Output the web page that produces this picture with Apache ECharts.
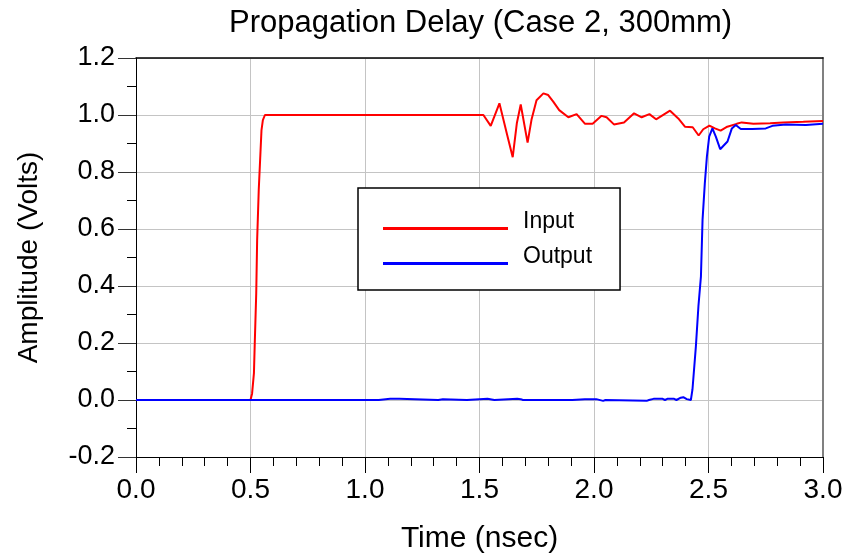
<!DOCTYPE html>
<html>
<head>
<meta charset="utf-8">
<script src="https://cdn.jsdelivr.net/npm/echarts@6/dist/echarts.min.js"></script>
<style>html,body{margin:0;padding:0;background:#fff;}#c{width:850px;height:556px;}</style>
</head>
<body>
<div id="c"></div>
<script>
// ---- data ----
const titleText = 'Propagation Delay (Case 2, 300mm)';
const xName = 'Time (nsec)';
const yName = 'Amplitude (Volts)';
const seriesNames = ['Input', 'Output'];

const inputTime = [0, 0.50, 0.507, 0.515, 0.519, 0.525, 0.529, 0.536, 0.544, 0.548, 0.554, 0.563,
  1.517, 1.549, 1.587, 1.619, 1.645, 1.663, 1.680, 1.710, 1.727, 1.749, 1.779, 1.800, 1.822, 1.848,
  1.888, 1.924, 1.961, 1.994, 2.033, 2.055, 2.087, 2.131, 2.175, 2.208, 2.242, 2.271, 2.332, 2.368,
  2.397, 2.431, 2.457, 2.477, 2.504, 2.528, 2.553, 2.582, 2.623, 2.645, 2.696, 2.769, 2.827, 2.914, 3.0];
const inputAmp = [0, 0, 0.023, 0.094, 0.21, 0.374, 0.561, 0.737, 0.877, 0.947, 0.982, 1.0,
  1.0, 0.962, 1.041, 0.936, 0.852, 0.971, 1.037, 0.903, 0.983, 1.052, 1.076, 1.070, 1.047, 1.017,
  0.992, 1.003, 0.969, 0.969, 0.997, 0.992, 0.967, 0.974, 1.006, 0.992, 1.003, 0.985, 1.015, 0.988,
  0.959, 0.957, 0.928, 0.950, 0.963, 0.953, 0.945, 0.959, 0.969, 0.974, 0.969, 0.971, 0.974, 0.976, 0.979];

const outputTime = [0, 1.06, 1.065, 1.11, 1.115, 1.125, 1.15, 1.155, 1.32, 1.325, 1.34, 1.345,
  1.445, 1.45, 1.535, 1.54, 1.565, 1.57, 1.665, 1.67, 1.68, 1.69, 1.885, 1.89, 1.905, 1.96, 1.965,
  2.01, 2.04, 2.05, 2.23, 2.24, 2.26, 2.30, 2.31, 2.32, 2.35, 2.36, 2.379, 2.39, 2.405, 2.423,
  2.430, 2.445, 2.456, 2.467, 2.474, 2.484, 2.493, 2.503, 2.517, 2.532, 2.551, 2.583, 2.602, 2.619,
  2.641, 2.692, 2.750, 2.779, 2.838, 2.925, 3.0];
const outputAmp = [0, 0, 0.004, 0.004, 0, 0.004, 0.004, 0, 0, 0.003, 0.003, 0,
  0, 0.004, 0.004, 0, 0, 0.004, 0.004, 0, 0.003, 0, 0, 0.004, 0, 0.003, 0,
  0.003, -0.003, 0, -0.003, 0, 0.004, 0.004, 0, 0.004, 0.004, 0, 0.008, 0.010, 0.003, 0,
  0.037, 0.189, 0.329, 0.434, 0.632, 0.761, 0.854, 0.924, 0.953, 0.924, 0.880, 0.907, 0.953, 0.965,
  0.951, 0.951, 0.953, 0.962, 0.967, 0.965, 0.969];

const xMin = 0, xMax = 3.0, xStep = 0.5;
const yMin = -0.2, yMax = 1.2, yStep = 0.2;
const colors = ['#ff0000', '#0000ff'];

// ---- build ----
const pair = (ts, vs) => ts.map((t, i) => [t, vs[i]]);
const FONT = '"Liberation Sans", Arial, sans-serif';
// legend swatch: a 3px bar drawn in the lower part of a 125x20 icon box
const legendIcon = 'path://M0,0h0.01v0.01h-0.01zM0,15.5h125v3h-125zM124.99,19.99h0.01v0.01h-0.01z';

const chart = echarts.init(document.getElementById('c'), null, {renderer: 'canvas'});
chart.setOption({
  animation: false,
  backgroundColor: '#ffffff',
  title: {
    text: titleText,
    left: 229,
    top: 8,
    padding: 0,
    textStyle: {fontFamily: FONT, fontSize: 31, fontWeight: 'normal', color: '#000'}
  },
  legend: {
    orient: 'vertical',
    left: 358,
    top: 188,
    padding: [22, 28, 22, 25],
    itemGap: 12,
    itemWidth: 125,
    itemHeight: 20,
    icon: legendIcon,
    symbolKeepAspect: false,
    borderColor: '#000',
    borderWidth: 1.5,
    borderRadius: 0,
    backgroundColor: '#fff',
    itemStyle: {borderWidth: 0},
    textStyle: {fontFamily: FONT, fontSize: 23, color: '#000', padding: [0, 0, 0, 10]},
    data: seriesNames
  },
  grid: {left: 136, right: 27, top: 58, bottom: 99, containLabel: false, outerBoundsMode: 'none'},
  xAxis: [{
    type: 'value', min: xMin, max: xMax, interval: xStep,
    name: xName, nameLocation: 'middle', nameGap: 67,
    nameTextStyle: {fontFamily: FONT, fontSize: 30, color: '#000'},
    axisLine: {show: true, onZero: false, lineStyle: {color: '#000', width: 1}},
    axisTick: {show: true, length: 16, lineStyle: {color: '#000', width: 1}},
    minorTick: {show: true, splitNumber: 5, length: 9, lineStyle: {color: '#000', width: 1}},
    axisLabel: {fontFamily: FONT, fontSize: 28, color: '#000', margin: 19,
      formatter: v => v.toFixed(1)},
    splitLine: {show: true, lineStyle: {color: '#c4c4c4', width: 1}}
  }, {
    type: 'value', min: xMin, max: xMax, position: 'top',
    axisLine: {show: true, onZero: false, lineStyle: {color: '#000', width: 1.5}},
    axisTick: {show: false}, axisLabel: {show: false}, splitLine: {show: false}
  }],
  yAxis: [{
    type: 'value', min: yMin, max: yMax, interval: yStep,
    name: yName, nameLocation: 'middle', nameGap: 93, nameRotate: 90,
    nameTextStyle: {fontFamily: FONT, fontSize: 28, color: '#000'},
    axisLine: {show: true, onZero: false, lineStyle: {color: '#000', width: 1}},
    axisTick: {show: true, length: 18, lineStyle: {color: '#333', width: 1}},
    minorTick: {show: true, splitNumber: 2, length: 9, lineStyle: {color: '#000', width: 1}},
    axisLabel: {fontFamily: FONT, fontSize: 27, color: '#000', margin: 21,
      formatter: v => v.toFixed(1)},
    splitLine: {show: true, lineStyle: {color: '#c4c4c4', width: 1}}
  }, {
    type: 'value', min: yMin, max: yMax, position: 'right',
    axisLine: {show: true, onZero: false, lineStyle: {color: '#808080', width: 2}},
    axisTick: {show: false}, axisLabel: {show: false}, splitLine: {show: false}
  }],
  series: [{
    name: seriesNames[0], type: 'line', xAxisIndex: 0, yAxisIndex: 0,
    data: pair(inputTime, inputAmp), showSymbol: false, symbol: 'none',
    lineStyle: {color: colors[0], width: 2}, itemStyle: {color: colors[0]}, z: 3
  }, {
    name: seriesNames[1], type: 'line', xAxisIndex: 0, yAxisIndex: 0,
    data: pair(outputTime, outputAmp), showSymbol: false, symbol: 'none',
    lineStyle: {color: colors[1], width: 2}, itemStyle: {color: colors[1]}, z: 4
  }]
});
</script>
</body>
</html>
